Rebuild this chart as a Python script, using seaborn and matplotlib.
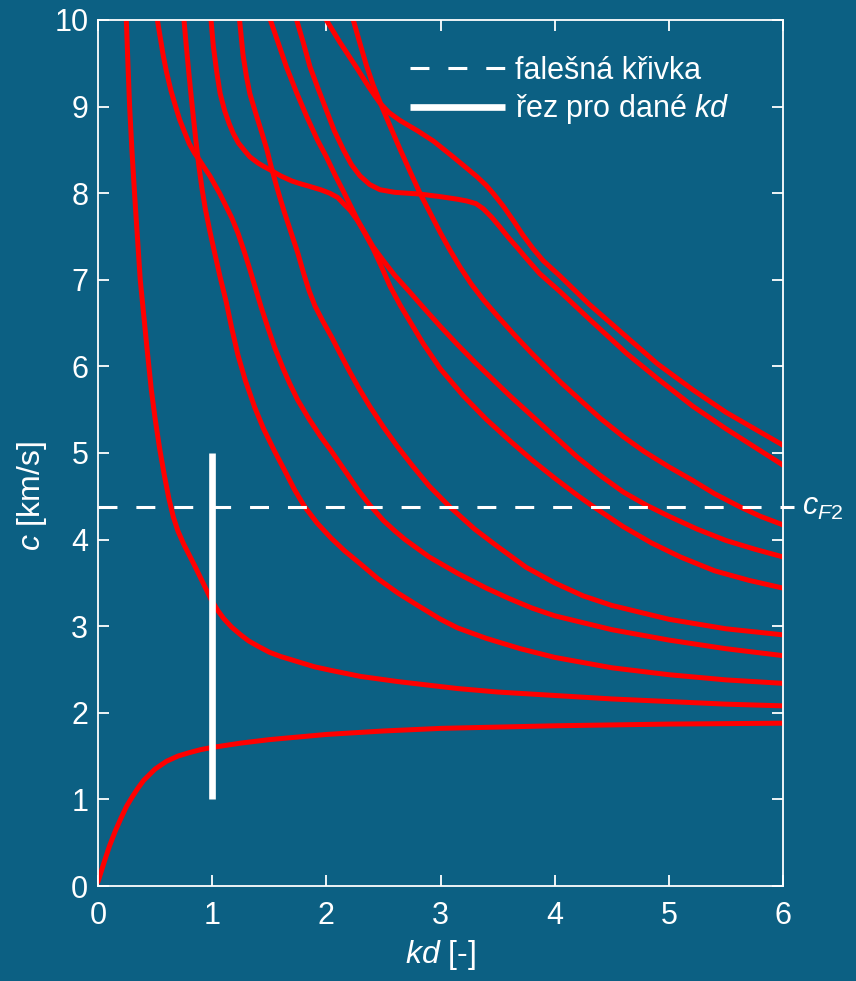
import numpy as np
import pandas as pd
import matplotlib
matplotlib.use("Agg")
import matplotlib.pyplot as plt
from matplotlib.lines import Line2D
import seaborn as sns

# Dispersion branches c(kd) [km/s]
mode0_kd = [0, 0.05, 0.1, 0.15, 0.2, 0.25, 0.3, 0.35, 0.4, 0.5, 0.6, 0.7, 0.8, 0.9, 1.0, 1.25, 1.5, 2.0, 2.5, 3.0, 4.0, 5.0, 6.0]
mode0_c = [0.05, 0.26, 0.46, 0.63, 0.78, 0.92, 1.03, 1.13, 1.22, 1.35, 1.44, 1.50, 1.54, 1.575, 1.60, 1.65, 1.69, 1.75, 1.79, 1.82, 1.85, 1.87, 1.88]

mode1_kd = [0.248, 0.262, 0.277, 0.297, 0.32, 0.345, 0.37, 0.40, 0.43, 0.467, 0.50, 0.54, 0.58, 0.62, 0.66, 0.70, 0.75, 0.80, 0.85, 0.92, 0.99, 1.05, 1.10, 1.17, 1.25, 1.32, 1.40, 1.5, 1.6, 1.75, 1.9, 2.04, 2.3, 2.63, 3.15, 3.5, 4.0, 4.5, 5.0, 5.5, 6.0]
mode1_c = [10.0, 9.5, 9.0, 8.5, 8.0, 7.5, 7.0, 6.6, 6.2, 5.73, 5.40, 5.05, 4.75, 4.48, 4.26, 4.10, 3.95, 3.82, 3.69, 3.50, 3.31, 3.18, 3.09, 2.99, 2.90, 2.83, 2.77, 2.70, 2.65, 2.59, 2.53, 2.49, 2.42, 2.36, 2.28, 2.24, 2.20, 2.16, 2.13, 2.10, 2.08]

mode2_kd = [0.52, 0.545, 0.57, 0.60, 0.64, 0.68, 0.715, 0.76, 0.80, 0.847, 0.89, 0.934, 0.98, 1.022, 1.065, 1.11, 1.17, 1.226, 1.28, 1.33, 1.38, 1.43, 1.49, 1.547, 1.62, 1.68, 1.75, 1.85, 1.95, 2.04, 2.16, 2.28, 2.38, 2.5, 2.6, 2.69, 2.9, 3.15, 3.4, 3.6, 3.8, 4.0, 4.25, 4.5, 5.0, 5.5, 6.0]
mode2_c = [10.0, 9.8, 9.6, 9.4, 9.18, 9.0, 8.85, 8.7, 8.57, 8.46, 8.38, 8.29, 8.2, 8.1, 8.0, 7.88, 7.72, 7.54, 7.33, 7.12, 6.90, 6.68, 6.44, 6.22, 5.98, 5.8, 5.61, 5.39, 5.19, 5.03, 4.8, 4.57, 4.40, 4.22, 4.1, 4.0, 3.8, 3.61, 3.44, 3.32, 3.21, 3.12, 3.04, 2.96, 2.84, 2.74, 2.66]

mode3_kd = [0.753, 0.772, 0.792, 0.813, 0.835, 0.858, 0.883, 0.91, 0.94, 0.98, 1.022, 1.07, 1.124, 1.17, 1.226, 1.29, 1.372, 1.45, 1.547, 1.65, 1.72, 1.81, 1.92, 2.04, 2.16, 2.28, 2.45, 2.63, 2.8, 3.0, 3.15, 3.4, 3.7, 4.0, 4.5, 5.0, 5.5, 6.0]
mode3_c = [10.0, 9.72, 9.44, 9.16, 8.88, 8.60, 8.32, 8.06, 7.82, 7.56, 7.31, 7.03, 6.74, 6.45, 6.13, 5.84, 5.53, 5.28, 5.02, 4.76, 4.58, 4.38, 4.19, 4.02, 3.87, 3.74, 3.55, 3.38, 3.24, 3.08, 2.98, 2.86, 2.74, 2.64, 2.52, 2.44, 2.38, 2.34]

mode4_kd = [0.99, 1.01, 1.04, 1.07, 1.11, 1.15, 1.185, 1.23, 1.285, 1.33, 1.40, 1.45, 1.507, 1.6, 1.7, 1.77, 1.85, 1.95, 2.03, 2.1, 2.15, 2.21, 2.27, 2.34, 2.41, 2.5, 2.6, 2.73, 2.85, 3.0, 3.15, 3.3, 3.45, 3.6, 3.8, 4.0, 4.2, 4.4, 4.6, 4.8, 5.0, 5.25, 5.5, 5.75, 6.0]
mode4_c = [10.0, 9.7, 9.4, 9.15, 8.95, 8.8, 8.69, 8.58, 8.49, 8.42, 8.35, 8.31, 8.27, 8.2, 8.14, 8.11, 8.08, 8.04, 8.0, 7.95, 7.88, 7.80, 7.69, 7.54, 7.38, 7.22, 7.05, 6.86, 6.68, 6.46, 6.25, 6.05, 5.86, 5.67, 5.43, 5.19, 4.95, 4.74, 4.55, 4.40, 4.27, 4.12, 3.99, 3.89, 3.80]

mode5_kd = [1.24, 1.27, 1.30, 1.33, 1.38, 1.43, 1.48, 1.518, 1.56, 1.6, 1.635, 1.69, 1.75, 1.80, 1.85, 1.9, 1.97, 2.05, 2.12, 2.2, 2.28, 2.38, 2.5, 2.62, 2.75, 2.9, 3.08, 3.3, 3.5, 3.75, 4.0, 4.25, 4.5, 5.0, 5.5, 6.0]
mode5_c = [10.0, 9.6, 9.35, 9.15, 8.93, 8.72, 8.5, 8.3, 8.1, 7.92, 7.77, 7.55, 7.31, 7.08, 6.87, 6.70, 6.52, 6.33, 6.15, 5.95, 5.76, 5.54, 5.30, 5.08, 4.86, 4.62, 4.38, 4.12, 3.92, 3.68, 3.50, 3.35, 3.24, 3.08, 2.97, 2.90]

mode6_kd = [1.51, 1.58, 1.65, 1.74, 1.83, 1.92, 2.0, 2.08, 2.15, 2.21, 2.27, 2.34, 2.41, 2.48, 2.56, 2.65, 2.75, 2.85, 3.0, 3.2, 3.4, 3.6, 3.8, 4.0, 4.2, 4.34, 4.6, 4.85, 5.1, 5.4, 5.7, 6.0]
mode6_c = [10.0, 9.73, 9.46, 9.16, 8.88, 8.62, 8.42, 8.2, 8.02, 7.86, 7.70, 7.53, 7.36, 7.16, 6.92, 6.70, 6.48, 6.26, 5.97, 5.66, 5.39, 5.15, 4.92, 4.71, 4.51, 4.38, 4.15, 3.96, 3.80, 3.64, 3.53, 3.44]

mode7_kd = [1.74, 1.80, 1.857, 1.93, 2.0, 2.07, 2.15, 2.22, 2.295, 2.38, 2.47, 2.6, 2.82, 3.0, 3.15, 3.23, 3.31, 3.375, 3.45, 3.52, 3.6, 3.68, 3.75, 3.87, 4.05, 4.3, 4.63, 4.9, 5.21, 5.5, 5.75, 6.0]
mode7_c = [10.0, 9.73, 9.46, 9.2, 8.96, 8.72, 8.50, 8.33, 8.2, 8.1, 8.04, 8.01, 7.99, 7.96, 7.93, 7.91, 7.88, 7.82, 7.72, 7.61, 7.48, 7.36, 7.25, 7.07, 6.86, 6.55, 6.15, 5.86, 5.54, 5.28, 5.07, 4.86]

mode8_kd = [2.0, 2.06, 2.12, 2.2, 2.27, 2.37, 2.47, 2.55, 2.645, 2.8, 2.94, 3.11, 3.22, 3.32, 3.4, 3.46, 3.55, 3.64, 3.72, 3.81, 3.9, 4.05, 4.3, 4.63, 4.9, 5.21, 5.5, 5.75, 6.0]
mode8_c = [10.0, 9.87, 9.74, 9.58, 9.44, 9.23, 9.04, 8.93, 8.84, 8.72, 8.6, 8.42, 8.3, 8.19, 8.09, 8.0, 7.85, 7.68, 7.52, 7.36, 7.22, 7.04, 6.72, 6.34, 6.03, 5.73, 5.47, 5.28, 5.09]

mode9_kd = [2.236, 2.29, 2.35, 2.41, 2.48, 2.56, 2.645, 2.73, 2.82, 2.91, 3.0, 3.08, 3.17, 3.27, 3.375, 3.5, 3.65, 3.8, 4.05, 4.2, 4.4, 4.6, 4.78, 5.0, 5.2, 5.4, 5.62, 5.8, 6.0]
mode9_c = [10.0, 9.75, 9.48, 9.25, 9.02, 8.77, 8.51, 8.26, 8.0, 7.77, 7.54, 7.35, 7.15, 6.95, 6.77, 6.58, 6.36, 6.15, 5.82, 5.64, 5.40, 5.19, 5.02, 4.84, 4.69, 4.53, 4.38, 4.27, 4.17]

c_false = 4.38          # false curve velocity c_F2
cut_kd = 1.0            # cross-section at given kd
cut_c = [1.0, 5.0]

xticks = [0, 1, 2, 3, 4, 5, 6]
yticks = [0, 1, 2, 3, 4, 5, 6, 7, 8, 9, 10]

branches = [
    (mode0_kd, mode0_c), (mode1_kd, mode1_c), (mode2_kd, mode2_c),
    (mode3_kd, mode3_c), (mode4_kd, mode4_c), (mode5_kd, mode5_c),
    (mode6_kd, mode6_c), (mode7_kd, mode7_c), (mode8_kd, mode8_c),
    (mode9_kd, mode9_c),
]
frames = []
for i, (kd, c) in enumerate(branches):
    frames.append(pd.DataFrame({"kd": kd, "c": c, "mode": i}))
df = pd.concat(frames, ignore_index=True)

bg = "#0c6083"
FS = 22
sns.set_style("ticks")
plt.rcParams["font.family"] = ["Liberation Sans", "DejaVu Sans"]
plt.rcParams["mathtext.fontset"] = "custom"
plt.rcParams["mathtext.rm"] = "Liberation Sans"
plt.rcParams["mathtext.it"] = "Liberation Sans:italic"
plt.rcParams["mathtext.bf"] = "Liberation Sans:bold"

fig = plt.figure(figsize=(8.56, 9.81), dpi=100, facecolor=bg)
ax = fig.add_axes([98 / 856, 1 - 886 / 981, (783 - 98) / 856, (886 - 20) / 981])
ax.set_facecolor(bg)

sns.lineplot(data=df, x="kd", y="c", units="mode", estimator=None, sort=False,
             color="#ff0000", linewidth=3.6, ax=ax, legend=False)
for ln in ax.get_lines():
    ln.set_solid_joinstyle("round")
    ln.set_solid_capstyle("round")

# false curve
ax.plot([0, 6.1], [c_false, c_false], color="white", lw=2.2,
        dashes=(6.2, 6.2), clip_on=False, zorder=4)
ax.text(6.17, c_false, r"$c_{F2}$", color="white", fontsize=FS,
        va="center", ha="left")

# cut for given kd
ax.plot([cut_kd, cut_kd], cut_c, color="white", lw=4.8, solid_capstyle="butt", zorder=5)

ax.set_xlim(0, 6)
ax.set_ylim(0, 10)
ax.set_xticks(xticks)
ax.set_yticks(yticks)
ax.set_xlabel(r"$kd$ [-]", color="white", fontsize=23, labelpad=5)
ax.set_ylabel(r"$c$ [km/s]", color="white", fontsize=23)
ax.yaxis.set_label_coords(-0.072, 0.45)

for s in ax.spines.values():
    s.set_color("white")
    s.set_linewidth(1.3)
ax.tick_params(direction="in", length=8, width=1.3, colors="white",
               labelsize=FS, top=True, right=True, pad=7)
ax.tick_params(axis="x", pad=11)

handles = [
    Line2D([], [], color="white", lw=2.2, dashes=(6.2, 6.2)),
    Line2D([], [], color="white", lw=4.8, solid_capstyle="butt"),
]
leg = ax.legend(handles, ["falešná křivka", r"řez pro dané $kd$"],
                loc="upper right", bbox_to_anchor=(0.962, 0.99), frameon=False,
                fontsize=FS, handlelength=3.1, handletextpad=0.33, labelspacing=0.2)
for t in leg.get_texts():
    t.set_color("white")

fig.savefig("out.png", dpi=100, facecolor=bg)
